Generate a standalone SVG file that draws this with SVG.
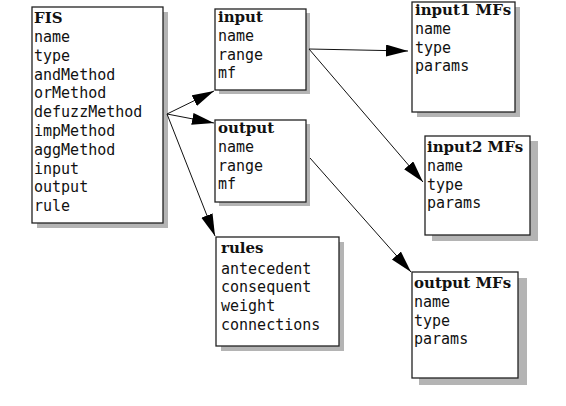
<svg xmlns="http://www.w3.org/2000/svg" width="566" height="406" viewBox="0 0 566 406">
<style>
.box{fill:#fff;stroke:#222;stroke-width:1.3}
.sh{fill:#b4b4b4}
.h{font-family:"DejaVu Serif","Liberation Serif",serif;font-weight:bold;font-size:15px;fill:#111}
.t{font-family:"DejaVu Sans Mono","Liberation Mono",monospace;font-size:15px;fill:#111}
.c{stroke:#111;stroke-width:1;fill:none}
</style>
<defs>
<marker id="ah" markerUnits="userSpaceOnUse" markerWidth="24" markerHeight="14" refX="22" refY="6" orient="auto">
<path d="M0,0 L22,6 L0,12 z" fill="#000"/>
</marker>
</defs>
<rect width="566" height="406" fill="#fff"/>
<g id="fis">
<rect class="sh" x="37" y="12" width="131" height="216"/>
<rect class="box" x="32" y="7" width="131" height="216"/>
<text class="h" x="34" y="23">FIS</text>
<text class="t" x="34" y="42">name</text>
<text class="t" x="34" y="60.8">type</text>
<text class="t" x="34" y="79.6">andMethod</text>
<text class="t" x="34" y="98.4">orMethod</text>
<text class="t" x="34" y="117.2">defuzzMethod</text>
<text class="t" x="34" y="136">impMethod</text>
<text class="t" x="34" y="154.8">aggMethod</text>
<text class="t" x="34" y="173.6">input</text>
<text class="t" x="34" y="192.4">output</text>
<text class="t" x="34" y="211.2">rule</text>
</g>
<g id="input">
<rect class="sh" x="219" y="13" width="91" height="81"/>
<rect class="box" x="215" y="9" width="91" height="81"/>
<text class="h" x="218" y="22">input</text>
<text class="t" x="218" y="41">name</text>
<text class="t" x="218" y="59.7">range</text>
<text class="t" x="218" y="78.4">mf</text>
</g>
<g id="output">
<rect class="sh" x="219" y="124" width="91" height="82"/>
<rect class="box" x="215" y="120" width="91" height="82"/>
<text class="h" x="218" y="133">output</text>
<text class="t" x="218" y="152">name</text>
<text class="t" x="218" y="170.7">range</text>
<text class="t" x="218" y="189.4">mf</text>
</g>
<g id="rules">
<rect class="sh" x="221" y="242" width="123" height="109"/>
<rect class="box" x="216" y="237" width="123" height="109"/>
<text class="h" x="221" y="253">rules</text>
<text class="t" x="221" y="273.5">antecedent</text>
<text class="t" x="221" y="292.2">consequent</text>
<text class="t" x="221" y="310.9">weight</text>
<text class="t" x="221" y="329.6">connections</text>
</g>
<g id="input1mfs">
<rect class="sh" x="417" y="7" width="103" height="110"/>
<rect class="box" x="412" y="2" width="103" height="110"/>
<text class="h" x="415" y="15">input1 MFs</text>
<text class="t" x="415" y="34">name</text>
<text class="t" x="415" y="52.7">type</text>
<text class="t" x="415" y="71.4">params</text>
</g>
<g id="input2mfs">
<rect class="sh" x="432" y="141" width="106" height="100"/>
<rect class="box" x="425" y="136" width="105" height="99"/>
<text class="h" x="427" y="152">input2 MFs</text>
<text class="t" x="427" y="171">name</text>
<text class="t" x="427" y="189.7">type</text>
<text class="t" x="427" y="208.4">params</text>
</g>
<g id="outputmfs">
<rect class="sh" x="419" y="278" width="108" height="107"/>
<rect class="box" x="412" y="272" width="106" height="106"/>
<text class="h" x="414" y="288">output MFs</text>
<text class="t" x="414" y="307">name</text>
<text class="t" x="414" y="325.7">type</text>
<text class="t" x="414" y="344.4">params</text>
</g>
<g id="connectors">
<line class="c" x1="167" y1="114" x2="214" y2="91" marker-end="url(#ah)"/>
<line class="c" x1="167" y1="114" x2="214" y2="123" marker-end="url(#ah)"/>
<line class="c" x1="167" y1="114" x2="215" y2="236" marker-end="url(#ah)"/>
<line class="c" x1="309" y1="49" x2="408" y2="51" marker-end="url(#ah)"/>
<line class="c" x1="309" y1="49" x2="423" y2="182" marker-end="url(#ah)"/>
<line class="c" x1="310" y1="158" x2="411" y2="272" marker-end="url(#ah)"/>
</g>
</svg>
